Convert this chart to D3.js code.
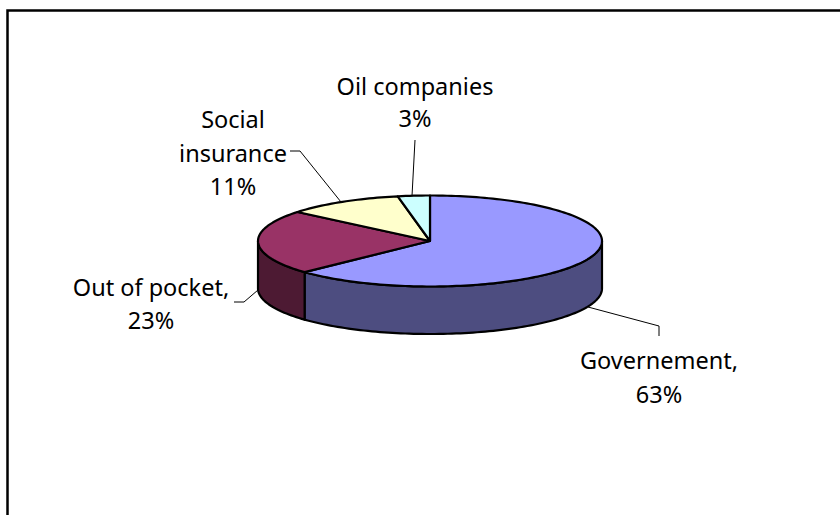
<!DOCTYPE html>
<html>
<head>
<meta charset="utf-8">
<script src="https://cdn.jsdelivr.net/npm/d3@7"></script>
<style>
html, body { margin: 0; padding: 0; background: #fff; }
svg { display: block; }
text { font-family: "Noto Sans", sans-serif; font-size: 23.5px; fill: #000; }
</style>
</head>
<body>
<svg id="chart" width="840" height="515"></svg>
<script>
// Spending shares, clockwise from twelve o'clock
const categories = ["Governement", "Out of pocket", "Social insurance", "Oil companies"];
const shares = [63, 23, 11, 3];
const topColors = ["#9999ff", "#993366", "#ffffcc", "#ccffff"];
const sideColors = ["#4d4d80", "#4d1a33", "#808066", "#668080"];

// Label lines, one array per slice
const labelLines = [["Governement,", "63%"], ["Out of pocket,", "23%"], ["Social", "insurance", "11%"], ["Oil companies", "3%"]];
const labelAnchors = [[659, 369], [151, 295.5], [233, 128], [415, 94.5]];
const labelSpacing = [33.5, 33.5, 33.5, 32.5];

// Leader lines from the rim to each label
const leaderPaths = [
  [[588, 307], [659, 326], [659, 336]],
  [[258, 290], [244, 302], [234, 302]],
  [[341, 202], [300, 151], [290, 151]],
  [[412, 196], [415, 140]]
];

const width = 840, height = 515;
const cx = 430, cy = 241, rx = 172, ry = 45.5, depth = 47.5;

const svg = d3.select("#chart");

// Chart frame: only the left and top edges fall inside the window
svg.append("path")
  .attr("d", d3.line()([[7.5, height + 2], [7.5, 10.5], [width + 2, 10.5]]))
  .attr("fill", "none").attr("stroke", "#000").attr("stroke-width", 2.5);

const pie = d3.pie().sort(null).value(d => d);
const arcs = pie(shares);

// Ellipse rim position for an angle measured clockwise from the top
const rimX = a => cx + rx * Math.sin(a);
const rimY = a => cy - ry * Math.cos(a);

const curve = d3.line().curve(d3.curveLinear);

function rimPoints(a0, a1) {
  const n = Math.max(2, Math.ceil(Math.abs(a1 - a0) * 40));
  return d3.range(n + 1).map(i => {
    const a = a0 + (a1 - a0) * i / n;
    return [rimX(a), rimY(a)];
  });
}

// Side walls: only the front half of the rim (90 to 270 degrees) is visible
const frontStart = Math.PI / 2, frontEnd = 3 * Math.PI / 2;
arcs.forEach((d, i) => {
  const a0 = Math.max(d.startAngle, frontStart);
  const a1 = Math.min(d.endAngle, frontEnd);
  if (a1 <= a0) return;
  const upper = rimPoints(a0, a1);
  const lower = upper.slice().reverse().map(([x, y]) => [x, y + depth]);
  svg.append("path")
    .attr("d", curve(upper.concat(lower)) + "Z")
    .attr("fill", sideColors[i])
    .attr("stroke", "#000").attr("stroke-width", 2.2).attr("stroke-linejoin", "round");
});

// Top face slices
arcs.forEach((d, i) => {
  const pts = [[cx, cy]].concat(rimPoints(d.startAngle, d.endAngle));
  svg.append("path")
    .attr("d", curve(pts) + "Z")
    .attr("fill", topColors[i])
    .attr("stroke", "#000").attr("stroke-width", 2.2).attr("stroke-linejoin", "round");
});

// Leader lines
leaderPaths.forEach(p => {
  svg.append("path")
    .attr("d", d3.line()(p))
    .attr("fill", "none").attr("stroke", "#000").attr("stroke-width", 1);
});

// Category labels
labelLines.forEach((lines, i) => {
  const t = svg.append("text").attr("text-anchor", "middle");
  lines.forEach((line, j) => {
    t.append("tspan")
      .attr("x", labelAnchors[i][0])
      .attr("y", labelAnchors[i][1] + j * labelSpacing[i])
      .text(line);
  });
});
</script>
</body>
</html>
